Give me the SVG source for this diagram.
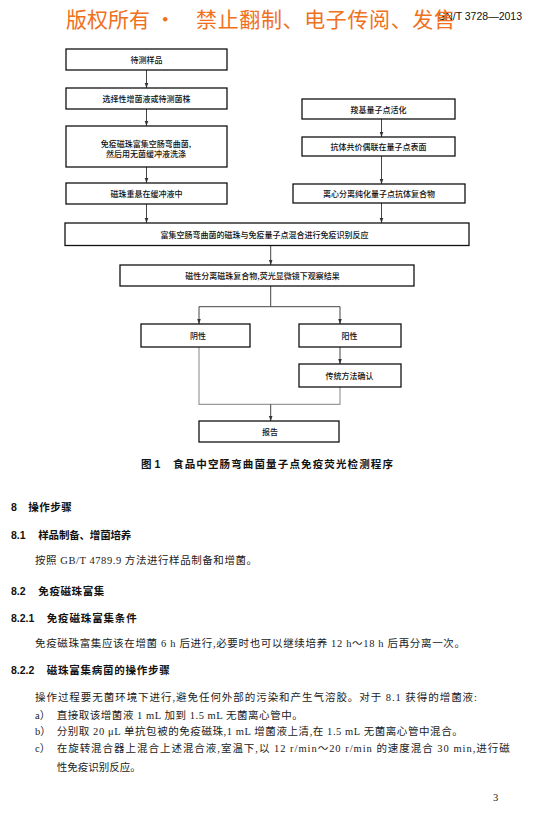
<svg xmlns="http://www.w3.org/2000/svg" width="535" height="816" viewBox="0 0 535 816">
<style>
.box{fill:#fff;stroke:#111;stroke-width:1.3}
.bt{font-family:"Noto Sans CJK SC","Liberation Sans",sans-serif;font-size:8px;font-weight:500;fill:#111;text-anchor:middle;dominant-baseline:central}
.c1{fill:none;stroke:#444;stroke-width:1}
.c2{fill:none;stroke:#999;stroke-width:1.2}
.h{font-family:"Liberation Sans","Noto Sans CJK SC",sans-serif;font-size:10.5px;font-weight:bold;fill:#111;dominant-baseline:central}
.b{font-family:"Liberation Serif","Noto Sans CJK SC",serif;font-size:10.5px;fill:#222;dominant-baseline:central}
.hd{font-family:"Noto Sans CJK SC",sans-serif;font-size:21px;fill:#F07020;dominant-baseline:central}
</style>
<defs>
<marker id="ar" markerWidth="6" markerHeight="6" refX="5" refY="3" orient="auto" markerUnits="userSpaceOnUse">
<path d="M0,1.2 L5,3 L0,4.8 Z" fill="#333"/>
</marker>
</defs>
<rect width="535" height="816" fill="#fff"/>

<g id="header">
<text x="522" y="16" font-family="Liberation Sans,sans-serif" font-size="10.5" fill="#111" text-anchor="end" dominant-baseline="central">SN/T 3728—2013</text>
<text class="hd" x="66" y="18">版权所有 ·</text>
<text class="hd" x="196" y="18" textLength="259">禁止翻制、电子传阅、发售</text>
</g>

<g id="connectors">
<line class="c1" x1="146.5" y1="70" x2="146.5" y2="88" marker-end="url(#ar)"/>
<line class="c1" x1="146.5" y1="109" x2="146.5" y2="126" marker-end="url(#ar)"/>
<line class="c1" x1="146.5" y1="167" x2="146.5" y2="183" marker-end="url(#ar)"/>
<line class="c1" x1="146.5" y1="204" x2="146.5" y2="223" marker-end="url(#ar)"/>
<line class="c1" x1="381.5" y1="119" x2="381.5" y2="137" marker-end="url(#ar)"/>
<line class="c1" x1="381.5" y1="156" x2="381.5" y2="184" marker-end="url(#ar)"/>
<line class="c1" x1="381.5" y1="203" x2="381.5" y2="223" marker-end="url(#ar)"/>
<line class="c1" x1="270.7" y1="245.5" x2="270.7" y2="265" marker-end="url(#ar)"/>
<polyline class="c1" points="270.7,286 270.7,306.7"/>
<polyline class="c1" points="199,306.7 340,306.7"/>
<line class="c1" x1="199" y1="306.7" x2="199" y2="324" marker-end="url(#ar)"/>
<line class="c1" x1="340" y1="306.7" x2="340" y2="324" marker-end="url(#ar)"/>
<line class="c1" x1="340" y1="347" x2="340" y2="364" marker-end="url(#ar)"/>
<polyline class="c2" points="199,347 199,404.3 340,404.3 340,387"/>
<line class="c1" x1="270.7" y1="404.3" x2="270.7" y2="421" marker-end="url(#ar)"/>
</g>

<g id="n1"><rect class="box" x="66" y="49" width="161" height="21"/><text class="bt" x="146.5" y="59.5">待测样品</text></g>
<g id="n2"><rect class="box" x="66" y="88" width="161" height="21"/><text class="bt" x="146.5" y="98.5">选择性增菌液或待测菌株</text></g>
<g id="n3"><rect class="box" x="66" y="126" width="161" height="41"/><text class="bt" x="146" y="143.3">免疫磁珠富集空肠弯曲菌,</text><text class="bt" x="146" y="153.3">然后用无菌缓冲液洗涤</text></g>
<g id="n4"><rect class="box" x="66" y="183" width="161" height="21"/><text class="bt" x="146.5" y="193.5">磁珠重悬在缓冲液中</text></g>
<g id="r1"><rect class="box" x="302" y="99" width="153" height="20"/><text class="bt" x="378.5" y="109">羧基量子点活化</text></g>
<g id="r2"><rect class="box" x="302" y="137" width="153" height="19"/><text class="bt" x="378.5" y="146.5">抗体共价偶联在量子点表面</text></g>
<g id="r3"><rect class="box" x="293" y="184" width="172" height="19"/><text class="bt" x="379" y="193.5">离心分离纯化量子点抗体复合物</text></g>
<g id="n5"><rect class="box" x="65" y="223" width="404" height="22.5"/><text class="bt" x="264.5" y="234.3">富集空肠弯曲菌的磁珠与免疫量子点混合进行免疫识别反应</text></g>
<g id="n6"><rect class="box" x="120" y="265" width="294" height="21"/><text class="bt" x="262.5" y="275.5">磁性分离磁珠复合物,荧光显微镜下观察结果</text></g>
<g id="n7"><rect class="box" x="141" y="324" width="109" height="23"/><text class="bt" x="198" y="335.5">阴性</text></g>
<g id="n8"><rect class="box" x="299" y="324" width="102" height="23"/><text class="bt" x="349.5" y="335.5">阳性</text></g>
<g id="n9"><rect class="box" x="299" y="364" width="102" height="23"/><text class="bt" x="349.5" y="375.5">传统方法确认</text></g>
<g id="n10"><rect class="box" x="199" y="421" width="140" height="21"/><text class="bt" x="270" y="431.5">报告</text></g>

<g id="text">
<text class="h" x="141" y="464.3">图 1</text>
<text class="h" x="173" y="464.3" textLength="220">食品中空肠弯曲菌量子点免疫荧光检测程序</text>

<text class="h" x="11" y="507.3">8</text>
<text class="h" x="28.3" y="507.3" textLength="43.5">操作步骤</text>
<text class="h" x="11" y="535">8.1</text>
<text class="h" x="38.3" y="535" textLength="93">样品制备、增菌培养</text>
<text class="b" x="35" y="560" textLength="222">按照 GB/T 4789.9 方法进行样品制备和增菌。</text>
<text class="h" x="11" y="590.5">8.2</text>
<text class="h" x="38.3" y="590.5" textLength="66">免疫磁珠富集</text>
<text class="h" x="11" y="618.3">8.2.1</text>
<text class="h" x="46.7" y="618.3" textLength="90">免疫磁珠富集条件</text>
<text class="b" x="35" y="643.3" textLength="430">免疫磁珠富集应该在增菌 6 h 后进行,必要时也可以继续培养 12 h～18 h 后再分离一次。</text>
<text class="h" x="11" y="670">8.2.2</text>
<text class="h" x="46.7" y="670" textLength="123">磁珠富集病菌的操作步骤</text>
<text class="b" x="35" y="697.3" textLength="442">操作过程要无菌环境下进行,避免任何外部的污染和产生气溶胶。对于 8.1 获得的增菌液:</text>
<text class="b" x="35" y="715">a）</text>
<text class="b" x="56.7" y="715" textLength="246">直接取该增菌液 1 mL 加到 1.5 mL 无菌离心管中。</text>
<text class="b" x="35" y="731.7">b）</text>
<text class="b" x="56.7" y="731.7" textLength="406">分别取 20 μL 单抗包被的免疫磁珠,1 mL 增菌液上清,在 1.5 mL 无菌离心管中混合。</text>
<text class="b" x="35" y="748.3">c）</text>
<text class="b" x="56.7" y="748.3" textLength="453">在旋转混合器上混合上述混合液,室温下,以 12 r/min～20 r/min 的速度混合 30 min,进行磁</text>
<text class="b" x="56.7" y="767.7" textLength="84">性免疫识别反应。</text>
<text class="b" x="493" y="797" font-size="9">3</text>
</g>
</svg>
